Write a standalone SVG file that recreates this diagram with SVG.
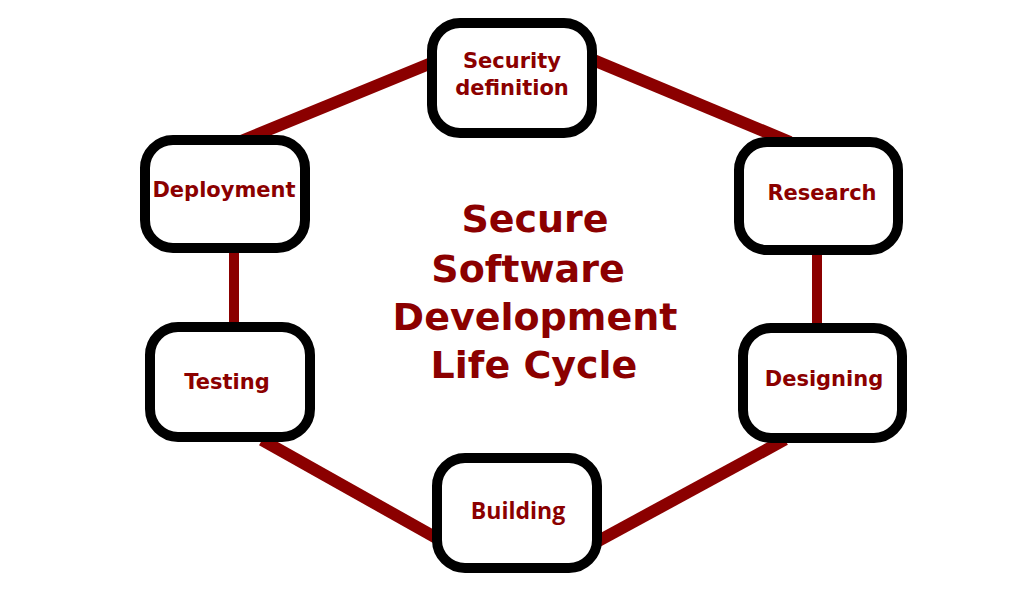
<svg xmlns="http://www.w3.org/2000/svg" width="1024" height="600" viewBox="0 0 1024 600">
<style>
.node{fill:#ffffff;stroke:#000000;stroke-width:10}
.link{stroke:#8b0000;stroke-width:12;fill:none}
.vlink{stroke:#8b0000;stroke-width:10;fill:none}
.lbl{font-family:"DejaVu Sans","Verdana",sans-serif;font-weight:bold;font-size:21px;fill:#8b0000;text-anchor:middle}
.lbl2{font-family:"Open Sans","Noto Sans",sans-serif;font-weight:bold;font-size:23px;fill:#8b0000;text-anchor:middle}
.title{font-family:"DejaVu Sans","Verdana",sans-serif;font-weight:bold;font-size:38px;fill:#8b0000;text-anchor:middle}
</style>
<rect width="1024" height="600" fill="#ffffff"/>
<g id="connectors">
<line class="link" x1="240" y1="141.5" x2="440" y2="59.5"/>
<line class="link" x1="590" y1="58.6" x2="790" y2="142"/>
<line class="vlink" x1="234" y1="245" x2="234" y2="330"/>
<line class="vlink" x1="817" y1="247" x2="817" y2="331"/>
<line class="link" x1="262" y1="440" x2="440" y2="540"/>
<line class="link" x1="590" y1="545.5" x2="785" y2="439.6"/>
</g>
<g id="security">
<rect class="node" x="432" y="23" width="160" height="110" rx="28"/>
<text class="lbl" x="512" y="68">Security</text>
<text class="lbl" x="512" y="95">definition</text>
</g>
<g id="research">
<rect class="node" x="739" y="142" width="159" height="108" rx="28"/>
<text class="lbl" x="822" y="200">Research</text>
</g>
<g id="designing">
<rect class="node" x="743" y="328" width="159" height="110" rx="28"/>
<text class="lbl" x="824" y="386">Designing</text>
</g>
<g id="building">
<rect class="node" x="437" y="458" width="160" height="110" rx="28"/>
<text class="lbl2" x="518" y="519">Building</text>
</g>
<g id="testing">
<rect class="node" x="150" y="327" width="160" height="110" rx="28"/>
<text class="lbl" x="227" y="389">Testing</text>
</g>
<g id="deployment">
<rect class="node" x="145" y="140" width="160" height="108" rx="28"/>
<text class="lbl" x="224" y="197">Deployment</text>
</g>
<g id="title">
<text class="title" x="535" y="232">Secure</text>
<text class="title" x="528" y="282">Software</text>
<text class="title" x="535" y="330">Development</text>
<text class="title" x="534" y="378">Life Cycle</text>
</g>
</svg>
